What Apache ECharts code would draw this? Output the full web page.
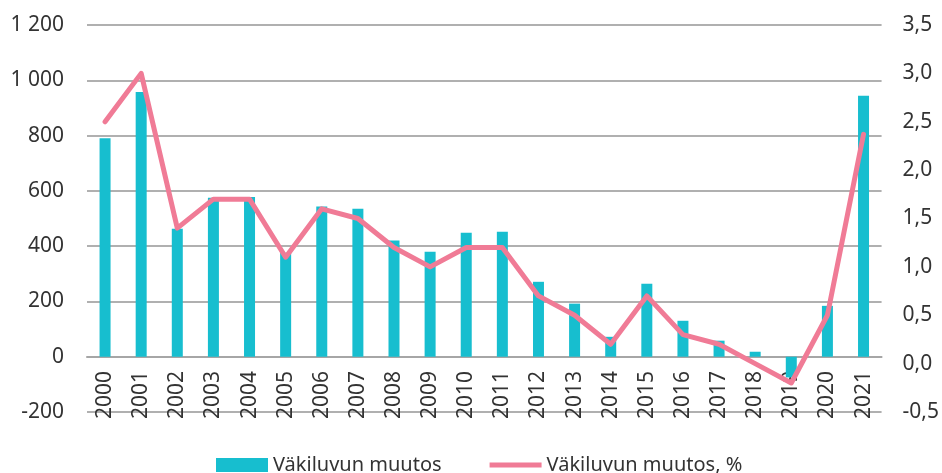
<!DOCTYPE html>
<html>
<head>
<meta charset="utf-8">
<script src="https://cdn.jsdelivr.net/npm/echarts@6/dist/echarts.min.js"></script>
<style>
  html, body { margin: 0; padding: 0; background: #fff; }
  #chart { width: 942px; height: 473px; }
</style>
</head>
<body>
<div id="chart"></div>
<script>
const years = ['2000', '2001', '2002', '2003', '2004', '2005', '2006', '2007', '2008', '2009', '2010',
  '2011', '2012', '2013', '2014', '2015', '2016', '2017', '2018', '2019', '2020', '2021'];
// väkiluvun muutos (henkeä)
const change = [790, 958, 463, 575, 578, 376, 543, 535, 420, 380, 448,
  452, 271, 192, 72, 264, 130, 58, 18, -75, 184, 944];
// väkiluvun muutos, %
const changePct = [2.5, 3.0, 1.4, 1.7, 1.7, 1.1, 1.6, 1.5, 1.2, 1.0, 1.2,
  1.2, 0.7, 0.5, 0.2, 0.7, 0.3, 0.2, 0.0, -0.2, 0.5, 2.37];

const font = 'Noto Sans';
const chart = echarts.init(document.getElementById('chart'));

// x-akseli nollan kohdalle (-200..0 = 1/7 piirtoalueen korkeudesta)
const plotH = 473 - 25 - 61;
const zeroShift = -Math.round(plotH / 7);

const option = {
  animation: false,
  textStyle: { fontFamily: font },
  grid: { left: 87, right: 60, top: 25, bottom: 61, containLabel: false },
  legend: {
    top: 450,
    left: 211,
    itemGap: 48,
    itemWidth: 52,
    itemHeight: 14,
    textStyle: { fontFamily: font, fontSize: 20, color: '#333' },
    data: [
      { name: 'Väkiluvun muutos', icon: 'rect' },
      { name: 'Väkiluvun muutos, %', icon: 'path://M0,0 L52,0 L52,5 L0,5 Z' }
    ]
  },
  xAxis: {
    type: 'category',
    data: years,
    offset: zeroShift,
    axisLine: { onZero: false, lineStyle: { color: '#a6a6a6', width: 2 } },
    axisTick: { show: false },
    axisLabel: { rotate: 90, margin: 14, fontSize: 21, color: '#333', fontFamily: font }
  },
  yAxis: [
    {
      type: 'value',
      min: -200,
      max: 1200,
      interval: 200,
      axisLine: { show: false },
      axisTick: { show: false },
      splitLine: { lineStyle: { color: '#b0b0b0', width: 2 } },
      axisLabel: {
        fontSize: 21, color: '#333', margin: 23, fontFamily: font,
        formatter: v => Math.abs(v) >= 1000 ? String(v).replace(/(\d)(\d{3})$/, '$1 $2') : String(v)
      }
    },
    {
      type: 'value',
      min: -0.5,
      max: 3.5,
      interval: 0.5,
      axisLine: { show: false },
      axisTick: { show: false },
      splitLine: { show: false },
      axisLabel: {
        fontSize: 21, color: '#333', margin: 21, fontFamily: font,
        formatter: v => v.toFixed(1).replace('.', ',')
      }
    }
  ],
  series: [
    {
      name: 'Väkiluvun muutos',
      type: 'bar',
      data: change,
      barWidth: 11,
      itemStyle: { color: '#17becf' }
    },
    {
      name: 'Väkiluvun muutos, %',
      type: 'line',
      yAxisIndex: 1,
      data: changePct,
      symbol: 'none',
      lineStyle: { color: '#f07b96', width: 5, cap: 'round', join: 'round' },
      itemStyle: { color: '#f07b96' }
    }
  ]
};

chart.setOption(option);
</script>
</body>
</html>
